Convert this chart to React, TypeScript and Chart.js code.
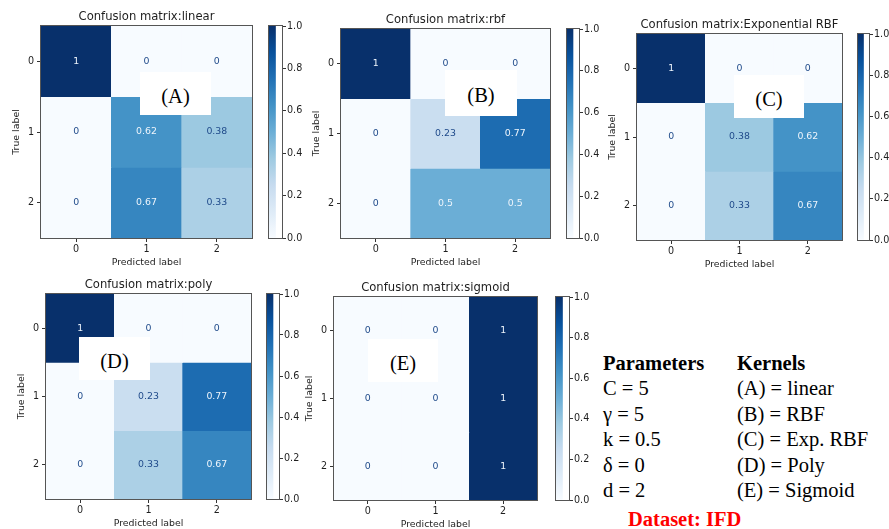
import React, { useEffect, useRef } from 'react';
import { Chart, registerables } from 'chart.js';

Chart.register(...registerables);

// ---------- data ----------
const classLabels = ['0', '1', '2'];
const colorbarTicks = [0, 0.2, 0.4, 0.6, 0.8, 1.0];
const panelTitles = [
  'Confusion matrix:linear',
  'Confusion matrix:rbf',
  'Confusion matrix:Exponential RBF',
  'Confusion matrix:poly',
  'Confusion matrix:sigmoid',
];
const panelTags = ['(A)', '(B)', '(C)', '(D)', '(E)'];
const linearMatrix = [[1, 0, 0], [0, 0.62, 0.38], [0, 0.67, 0.33]];
const rbfMatrix = [[1, 0, 0], [0, 0.23, 0.77], [0, 0.5, 0.5]];
const expRbfMatrix = [[1, 0, 0], [0, 0.38, 0.62], [0, 0.33, 0.67]];
const polyMatrix = [[1, 0, 0], [0, 0.23, 0.77], [0, 0.33, 0.67]];
const sigmoidMatrix = [[0, 0, 1], [0, 0, 1], [0, 0, 1]];
const parameterLines = ['C = 5', 'γ = 5', 'k = 0.5', 'δ = 0', 'd = 2'];
const kernelLines = ['(A) = linear', '(B) = RBF', '(C) = Exp. RBF', '(D) = Poly', '(E) = Sigmoid'];
const datasetLabel = 'Dataset: IFD';

const matrices = [linearMatrix, rbfMatrix, expRbfMatrix, polyMatrix, sigmoidMatrix];

// ---------- layout (positions / sizes) ----------
const layoutBoxes = [
  { m: [41, 26, 211, 212], cb: [268, 26, 15, 212], tag: [140, 72, 71, 43] },
  { m: [341, 29, 209, 209], cb: [566, 29, 14, 209], tag: [445, 70, 72, 46] },
  { m: [637, 34, 205, 206], cb: [857, 34, 13, 206], tag: [734, 75, 70, 43] },
  { m: [46, 294, 205, 205], cb: [266, 294, 14, 205], tag: [79, 337, 71, 43] },
  { m: [334, 297, 203, 203], cb: [555, 297, 15, 203], tag: [368, 339, 70, 43] },
];

// ---------- styles ----------
const FONT = 'DejaVu Sans';
const TEXT = '#1e1e1e';
const SPINE = '#555555';
const bluesAnchors = ['#f7fbff', '#deebf7', '#c6dbef', '#9ecae1', '#6baed6', '#4292c6', '#2171b5', '#08519c', '#08306b'];

function hexToRgb(h: string) {
  return [parseInt(h.slice(1, 3), 16), parseInt(h.slice(3, 5), 16), parseInt(h.slice(5, 7), 16)];
}
function blues(v: number) {
  const t = Math.max(0, Math.min(1, v)) * (bluesAnchors.length - 1);
  const i = Math.min(Math.floor(t), bluesAnchors.length - 2);
  const f = t - i;
  const a = hexToRgb(bluesAnchors[i]);
  const b = hexToRgb(bluesAnchors[i + 1]);
  const c = a.map((x, k) => Math.round(x + (b[k] - x) * f));
  return `rgb(${c[0]},${c[1]},${c[2]})`;
}

Chart.defaults.font.family = FONT;

const ML = 42, MT = 26, MR = 6, MB = 34;

function MatrixChart({ matrix, title, box }: { matrix: number[][]; title: string; box: number[] }) {
  const ref = useRef<HTMLCanvasElement>(null);
  const [mx, my, mw, mh] = box;
  const w = mw + ML + MR;
  const h = mh + MT + MB;
  useEffect(() => {
    const datasets = matrix.map((row, r) => ({
      data: row.map(() => [r - 0.5, r + 0.5]),
      backgroundColor: row.map((v) => blues(v)),
      borderWidth: 0,
      barPercentage: 1,
      categoryPercentage: 1,
      grouped: false,
    }));
    const decor = {
      id: 'decor',
      afterDatasetsDraw(chart: any) {
        const ctx = chart.ctx;
        ctx.save();
        ctx.font = `9.4px "${FONT}"`;
        ctx.textAlign = 'center';
        ctx.textBaseline = 'middle';
        matrix.forEach((row, r) => {
          const meta = chart.getDatasetMeta(r);
          meta.data.forEach((bar: any, c: number) => {
            const p = bar.getProps(['x', 'y', 'base'], true);
            const v = row[c];
            ctx.fillStyle = v < 0.5 ? '#1f4a8a' : '#eef5fc';
            ctx.fillText(String(v), p.x, (p.y + p.base) / 2);
          });
        });
        const a = chart.chartArea;
        ctx.strokeStyle = SPINE;
        ctx.lineWidth = 1;
        ctx.strokeRect(Math.round(a.left) - 0.5, Math.round(a.top) - 0.5, Math.round(a.right - a.left) + 1, Math.round(a.bottom - a.top) + 1);
        ctx.fillStyle = TEXT;
        ctx.font = `11.6px "${FONT}"`;
        ctx.textBaseline = 'middle';
        ctx.fillText(title, (a.left + a.right) / 2, a.top - 9);
        ctx.restore();
      },
    };
    const tickFont = { family: FONT, size: 9.6 };
    const chart = new Chart(ref.current as HTMLCanvasElement, {
      type: 'bar',
      data: { labels: classLabels, datasets: datasets as any },
      options: {
        animation: false,
        responsive: false,
        layout: { padding: { top: MT, right: MR, left: 0, bottom: 0 } },
        plugins: { legend: { display: false }, tooltip: { enabled: false }, title: { display: false } },
        scales: {
          x: {
            type: 'category',
            offset: true,
            grid: { offset: false, drawOnChartArea: false, drawTicks: true, tickLength: 4, color: '#333', tickColor: '#333' },
            border: { display: false },
            ticks: { font: tickFont, color: TEXT, padding: 2, maxRotation: 0 },
            title: { display: true, text: 'Predicted label', font: { family: FONT, size: 9.4 }, color: TEXT, padding: { top: 0, bottom: 4 } },
            afterFit: (s: any) => { s.height = MB; },
          },
          y: {
            type: 'linear',
            min: -0.5,
            max: 2.5,
            reverse: true,
            afterBuildTicks: (s: any) => { s.ticks = classLabels.map((_, i) => ({ value: i })); },
            grid: { drawOnChartArea: false, drawTicks: true, tickLength: 4, color: '#333', tickColor: '#333' },
            border: { display: false },
            ticks: { font: tickFont, color: TEXT, padding: 3, callback: (v: any) => classLabels[Number(v)] ?? '' },
            title: { display: true, text: 'True label', font: { family: FONT, size: 9.4 }, color: TEXT, padding: { top: 12, bottom: 0 } },
            afterFit: (s: any) => { s.width = ML; },
          },
        },
      } as any,
      plugins: [decor],
    });
    return () => chart.destroy();
  }, []);
  return (
    <canvas ref={ref} width={w} height={h}
      style={{ position: 'absolute', left: mx - ML, top: my - MT, width: w, height: h }} />
  );
}

const CP = 8, CR = 32;

function ColorBar({ box }: { box: number[] }) {
  const ref = useRef<HTMLCanvasElement>(null);
  const [cx, cy, cw, ch] = box;
  const w = cw + CR;
  const h = ch + 2 * CP;
  useEffect(() => {
    const outline = {
      id: 'outline',
      afterDatasetsDraw(chart: any) {
        const ctx = chart.ctx;
        const a = chart.chartArea;
        ctx.save();
        ctx.strokeStyle = SPINE;
        ctx.lineWidth = 1;
        ctx.strokeRect(Math.round(a.left) + 0.5, Math.round(a.top) - 0.5, Math.round(a.right - a.left) - 1, Math.round(a.bottom - a.top) + 1);
        ctx.restore();
      },
    };
    const chart = new Chart(ref.current as HTMLCanvasElement, {
      type: 'bar',
      data: {
        labels: ['cb'],
        datasets: [{
          data: [[colorbarTicks[0], colorbarTicks[colorbarTicks.length - 1]]] as any,
          backgroundColor: (c: any) => {
            const area = c.chart.chartArea;
            if (!area) return blues(0.5);
            const g = c.chart.ctx.createLinearGradient(0, area.bottom, 0, area.top);
            for (let i = 0; i <= 32; i++) g.addColorStop(i / 32, blues(i / 32));
            return g;
          },
          borderWidth: 0,
          barPercentage: 1,
          categoryPercentage: 1,
        }],
      },
      options: {
        animation: false,
        responsive: false,
        layout: { padding: { top: CP, bottom: CP, left: 0, right: 0 } },
        plugins: { legend: { display: false }, tooltip: { enabled: false } },
        scales: {
          x: { display: false, offset: false },
          y: {
            position: 'right',
            min: 0,
            max: 1,
            afterBuildTicks: (s: any) => { s.ticks = colorbarTicks.map((v) => ({ value: v })); },
            grid: { drawOnChartArea: false, drawTicks: true, tickLength: 3, color: '#333', tickColor: '#333' },
            border: { display: false },
            ticks: { font: { family: FONT, size: 9.6 }, color: TEXT, padding: 1, callback: (v: any) => Number(v).toFixed(1) },
            afterFit: (s: any) => { s.width = CR; },
          },
        },
      } as any,
      plugins: [outline],
    });
    return () => chart.destroy();
  }, []);
  return (
    <canvas ref={ref} width={w} height={h}
      style={{ position: 'absolute', left: cx, top: cy - CP, width: w, height: h }} />
  );
}

const serif = '"Liberation Serif", "Times New Roman", serif';

export default function App() {
  const lineTop = 351;
  const lineStep = 25.4;
  return (
    <div style={{ position: 'fixed', left: 0, top: 0, width: 889, height: 529, background: '#fff', overflow: 'hidden' }}>
      {matrices.map((m, i) => (
        <React.Fragment key={i}>
          <MatrixChart matrix={m} title={panelTitles[i]} box={layoutBoxes[i].m} />
          <ColorBar box={layoutBoxes[i].cb} />
          <div style={{
            position: 'absolute', left: layoutBoxes[i].tag[0], top: layoutBoxes[i].tag[1],
            width: layoutBoxes[i].tag[2], height: layoutBoxes[i].tag[3], background: '#fff',
            display: 'flex', alignItems: 'center', justifyContent: 'center', boxSizing: 'border-box', paddingTop: 5,
            fontFamily: serif, fontSize: 20.5, color: '#000',
          }}>{panelTags[i]}</div>
        </React.Fragment>
      ))}
      <div style={{ position: 'absolute', left: 603, top: lineTop, fontFamily: serif, fontSize: 20.5, fontWeight: 'bold', lineHeight: '25px', color: '#000' }}>Parameters</div>
      <div style={{ position: 'absolute', left: 737, top: lineTop, fontFamily: serif, fontSize: 20.5, fontWeight: 'bold', lineHeight: '25px', color: '#000' }}>Kernels</div>
      {parameterLines.map((t, i) => (
        <div key={'p' + i} style={{ position: 'absolute', left: 603, top: lineTop + lineStep * (i + 1), fontFamily: serif, fontSize: 20.5, lineHeight: '25px', color: '#000', whiteSpace: 'nowrap' }}>{t}</div>
      ))}
      {kernelLines.map((t, i) => (
        <div key={'k' + i} style={{ position: 'absolute', left: 737, top: lineTop + lineStep * (i + 1), fontFamily: serif, fontSize: 20.5, lineHeight: '25px', color: '#000', whiteSpace: 'nowrap' }}>{t}</div>
      ))}
      <div style={{ position: 'absolute', left: 628, top: 507, fontFamily: serif, fontSize: 20.5, fontWeight: 'bold', lineHeight: '25px', color: '#ff0000', whiteSpace: 'nowrap' }}>{datasetLabel}</div>
    </div>
  );
}
